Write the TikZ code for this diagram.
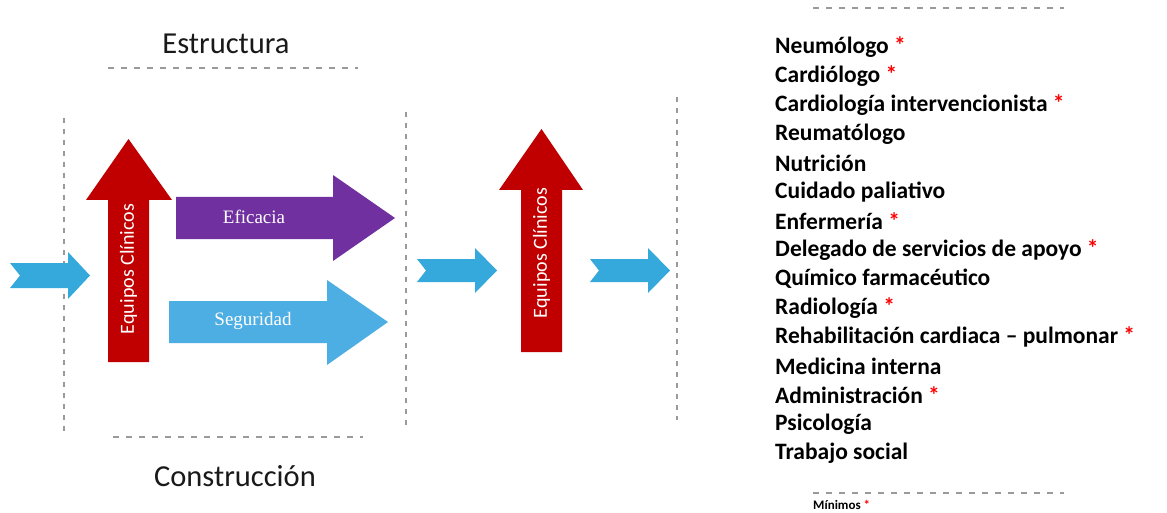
\documentclass[tikz,border=0pt]{standalone}
\usepackage{fontspec}
\setmainfont{Carlito}
\newfontfamily\serifarrow{Liberation Serif}
\definecolor{cred}{HTML}{C00000}
\definecolor{cpurple}{HTML}{7030A0}
\definecolor{cblue}{HTML}{35A8DC}
\definecolor{cblue2}{HTML}{4DAEE3}
\definecolor{cgray}{HTML}{9A9A9A}
\definecolor{cstar}{HTML}{FF0000}
\begin{document}
\begin{tikzpicture}[x=1pt,y=-1pt,
  sep/.style={draw=cgray,line width=1.3pt,dash pattern=on 6pt off 7pt},
  vsep/.style={draw=cgray,line width=1.2pt,dash pattern=on 5pt off 6pt},
  title/.style={font=\fontsize{30.5}{34}\selectfont,anchor=center,inner sep=0pt,text=black!90},
  arrowtext/.style={text=white,font=\serifarrow\fontsize{19}{21}\selectfont,inner sep=0pt},
  redtext/.style={text=white,font=\fontsize{20}{22}\selectfont,rotate=90,inner sep=0pt},
  item/.style={anchor=west,inner sep=0pt,font=\bfseries\fontsize{23.5}{26}\selectfont},
  star/.style={text=cstar}
]
\useasboundingbox (0,0) rectangle (1167,513);
\fill[white] (0,0) rectangle (1167,513);

% separators
\coordinate (v1a) at (64,118); \coordinate (v1b) at (64,432);
\coordinate (v2a) at (406,112); \coordinate (v2b) at (406,427);
\coordinate (v3a) at (677,97); \coordinate (v3b) at (677,420);
\draw[vsep] (v1a) -- (v1b);
\draw[vsep] (v2a) -- (v2b);
\draw[vsep] (v3a) -- (v3b);
\coordinate (h1a) at (108,68); \coordinate (h1b) at (358,68);
\coordinate (h2a) at (113,437); \coordinate (h2b) at (363,437);
\coordinate (h3a) at (813,8); \coordinate (h3b) at (1064,8);
\coordinate (h4a) at (813,493); \coordinate (h4b) at (1064,493);
\draw[sep] (h1a) -- (h1b);
\draw[sep] (h2a) -- (h2b);
\draw[sep] (h3a) -- (h3b);
\draw[sep] (h4a) -- (h4b);

\node[title] (estr) at (226,44) {Estructura};
\node[title] (constr) at (235,476) {Construcción};

% chevrons
\fill[cblue] (10,263) -- (68,263) -- (68,252) -- (90,275.5) -- (68,299) -- (68,288) -- (10,288) -- (20,275.5) -- cycle;
\fill[cblue] (417,259) -- (475,259) -- (475,248) -- (497,270.5) -- (475,293) -- (475,282) -- (417,282) -- (426,270.5) -- cycle;
\fill[cblue] (590,259) -- (648,259) -- (648,248) -- (670,270.5) -- (648,293) -- (648,282) -- (590,282) -- (599,270.5) -- cycle;

% red up arrows
\fill[cred] (108,362) -- (108,200) -- (86,200) -- (128.5,139) -- (172,200) -- (149,200) -- (149,362) -- cycle;
\node[redtext] (eq1) at (128.5,269) {Equipos Clínicos};
\fill[cred] (521,352) -- (521,190) -- (499,190) -- (541.5,129) -- (583,190) -- (562,190) -- (562,352) -- cycle;
\node[redtext] (eq2) at (541.5,253) {Equipos Clínicos};

% purple arrow
\fill[cpurple] (176,197) -- (333,197) -- (333,175) -- (395,218) -- (333,261) -- (333,239) -- (176,239) -- cycle;
\node[arrowtext] (efi) at (254,217) {Eficacia};
% blue arrow
\fill[cblue2] (169,301) -- (327,301) -- (327,280) -- (388,322) -- (327,365) -- (327,343) -- (169,343) -- cycle;
\node[arrowtext] (seg) at (253,321) {Seguridad};

% list
\node[item] (l1) at (775,47) {Neumólogo \textcolor{cstar}{*}};
\node[item] (l2) at (775,76) {Cardiólogo \textcolor{cstar}{*}};
\node[item] (l3) at (775,105) {Cardiología intervencionista \textcolor{cstar}{*}};
\node[item] (l4) at (775,134) {Reumatólogo};
\node[item] (l5) at (775,163) {Nutrición};
\node[item] (l6) at (775,192) {Cuidado paliativo};
\node[item] (l7) at (775,221) {Enfermería \textcolor{cstar}{*}};
\node[item] (l8) at (775,250) {Delegado de servicios de apoyo \textcolor{cstar}{*}};
\node[item] (l9) at (775,279) {Químico farmacéutico};
\node[item] (l10) at (775,308) {Radiología \textcolor{cstar}{*}};
\node[item] (l11) at (775,337) {Rehabilitación cardiaca – pulmonar \textcolor{cstar}{*}};
\node[item] (l12) at (775,366) {Medicina interna};
\node[item] (l13) at (775,395) {Administración \textcolor{cstar}{*}};
\node[item] (l14) at (775,424) {Psicología};
\node[item] (l15) at (775,453) {Trabajo social};
\node[anchor=west,inner sep=0pt,font=\bfseries\fontsize{13}{15}\selectfont] (min) at (813,504.5) {Mínimos \textcolor{cstar}{*}};
\end{tikzpicture}
\end{document}
